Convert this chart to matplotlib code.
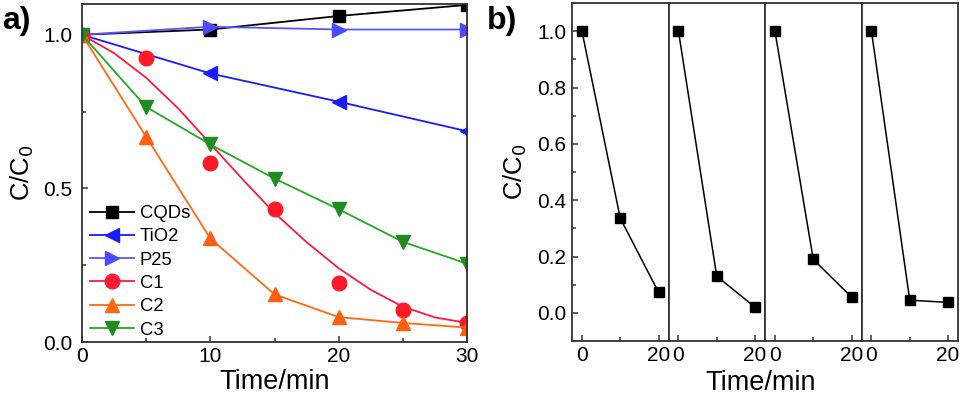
import matplotlib
matplotlib.use('Agg')
import matplotlib.pyplot as plt
from matplotlib.lines import Line2D
from matplotlib.ticker import MultipleLocator

plt.rcParams['font.family'] = ['Liberation Sans', 'DejaVu Sans']

# panel a data
t = [0, 10, 20, 30]
cqds = [1.0, 1.017, 1.061, 1.097]
tio2 = [1.0, 0.874, 0.782, 0.686]
p25 = [1.0, 1.026, 1.017, 1.017]
t5 = [0, 5, 10, 15, 20, 25, 30]
c1 = [1.0, 0.925, 0.583, 0.432, 0.193, 0.103, 0.062]
c2 = [1.0, 0.668, 0.337, 0.155, 0.081, 0.062, 0.047]
c3 = [1.0, 0.765, 0.643, 0.532, 0.432, 0.326, 0.255]
# fitted curve for C1
t_fit = [0, 2.5, 5, 7.5, 10, 12.5, 15, 17.5, 20, 22.5, 25, 27.5, 30]
c1_fit = [1.0, 0.94, 0.86, 0.76, 0.645, 0.53, 0.42, 0.325, 0.24, 0.17, 0.115, 0.08, 0.062]

# panel b data (4 cycles)
tb = [0, 10, 20]
cycles = [
    [1.0, 0.336, 0.073],
    [1.0, 0.130, 0.020],
    [1.0, 0.190, 0.056],
    [1.0, 0.045, 0.037],
]

W, H = 963, 398
fig = plt.figure(figsize=(W/100, H/100), dpi=100)

spine_c = '#333333'

def style(ax, pad=5):
    for s in ax.spines.values():
        s.set_color(spine_c)
        s.set_linewidth(1.3)
    ax.tick_params(which='both', direction='in', colors=spine_c, labelcolor='black',
                   labelsize=15, top=False, right=False)
    ax.tick_params(axis='y', which='both', pad=pad)
    ax.tick_params(which='major', length=4, width=1.1)
    ax.tick_params(which='minor', length=3, width=1.1)

# ---- panel a
ax = fig.add_axes([82/W, 1-342/H, 385/W, 338/H])
lw = 1.3
ax.plot(t, cqds, color='black', lw=lw, marker='s', ms=8.5, mfc='black', mec='black')
ax.plot(t, tio2, color='#1a1aff', lw=lw, marker='<', ms=10.5, mfc='#1a1aff', mec='#1a1aff')
ax.plot(t, p25, color='#5555ff', lw=lw, marker='>', ms=10.5, mfc='#4a4aff', mec='#4a4aff')
ax.plot(t_fit, c1_fit, color='#ff1a3a', lw=lw)
ax.plot(t5, c1, ls='none', marker='o', ms=10.5, mfc='#ff1a2a', mec='#ff1a2a')
ax.plot(t5, c2, color='#ff6a10', lw=lw, marker='^', ms=10.5, mfc='#ff6010', mec='#ff6010')
ax.plot(t5, c3, color='#22aa22', lw=lw, marker='v', ms=10.5, mfc='#1e8c1e', mec='#1e8c1e')

ax.set_xlim(0, 30)
ax.set_ylim(0, 1.1)
ax.xaxis.set_major_locator(MultipleLocator(10))
ax.xaxis.set_minor_locator(MultipleLocator(5))
ax.yaxis.set_major_locator(MultipleLocator(0.5))
ax.yaxis.set_minor_locator(MultipleLocator(0.25))
style(ax, pad=7)
ax.set_xlabel('Time/min', fontsize=19.5, labelpad=2)
ax.set_ylabel('C/C$_0$', fontsize=18.5, labelpad=5)

handles = [
    Line2D([], [], color='black', lw=lw, marker='s', ms=8.5),
    Line2D([], [], color='#1a1aff', lw=lw, marker='<', ms=10.5),
    Line2D([], [], color='#5555ff', lw=lw, marker='>', ms=10.5, mfc='#4a4aff', mec='#4a4aff'),
    Line2D([], [], color='#ff1a3a', lw=lw, marker='o', ms=10.5),
    Line2D([], [], color='#ff6a10', lw=lw, marker='^', ms=10.5),
    Line2D([], [], color='#22aa22', lw=lw, marker='v', ms=10.5, mfc='#1e8c1e', mec='#1e8c1e'),
]
labels = ['CQDs', 'TiO2', 'P25', 'C1', 'C2', 'C3']
ax.legend(handles, labels, loc='upper left', bbox_to_anchor=(0.021, 0.405),
          frameon=False, fontsize=13.3, handlelength=2.4, handletextpad=0.3,
          labelspacing=0.34, borderpad=0, borderaxespad=0, numpoints=1)

fig.text(2/W, 1-21/H, 'a)', fontsize=23, fontweight='bold', va='center', ha='left')

# ---- panel b
left, right = 572, 958
seg = (right-left)/4
for i, vals in enumerate(cycles):
    bx = fig.add_axes([(left+i*seg)/W, 1-341/H, seg/W, 338/H])
    bx.plot(tb, vals, color='black', lw=1.1, marker='s', ms=7.3, mfc='black', mec='black')
    bx.set_xlim(-2.6, 22.6)
    bx.set_ylim(-0.1, 1.1)
    bx.set_xticks([0, 20])
    bx.xaxis.set_minor_locator(MultipleLocator(10))
    style(bx, pad=4)
    if i == 0:
        bx.set_yticks([0, 0.2, 0.4, 0.6, 0.8, 1.0])
        bx.set_yticklabels(['0.0', '0.2', '0.4', '0.6', '0.8', '1.0'])
        bx.yaxis.set_minor_locator(MultipleLocator(0.1))
        bx.set_ylabel('C/C$_0$', fontsize=18.5, labelpad=6)
    else:
        bx.set_yticks([])
        bx.yaxis.set_minor_locator(plt.NullLocator())
    if i == 1:
        bx.set_xlabel('Time/min', fontsize=19.5)
        bx.xaxis.set_label_coords(0.95, -0.085, transform=bx.transAxes)
        bx.xaxis.label.set_va('top')

fig.text(487/W, 1-21/H, 'b)', fontsize=23, fontweight='bold', va='center', ha='left')

fig.savefig('out.png', dpi=100)
